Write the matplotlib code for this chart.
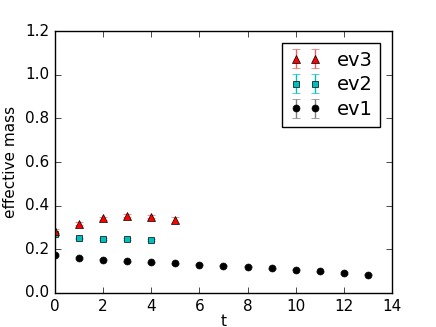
import matplotlib
matplotlib.use("Agg")
from matplotlib import pyplot as plt

t1 = list(range(14))
ev1 = [0.174, 0.160, 0.153, 0.145, 0.141, 0.136, 0.130, 0.125, 0.120, 0.113, 0.107, 0.099, 0.092, 0.084]
err1 = [0.004, 0.003, 0.003, 0.003, 0.003, 0.003, 0.003, 0.003, 0.003, 0.003, 0.003, 0.003, 0.003, 0.003]

t2 = [0, 1, 2, 3, 4]
ev2 = [0.268, 0.250, 0.246, 0.246, 0.242]
err2 = [0.006, 0.004, 0.004, 0.004, 0.004]

t3 = [0, 1, 2, 3, 4, 5]
ev3 = [0.285, 0.318, 0.342, 0.354, 0.350, 0.334]
err3 = [0.010, 0.008, 0.006, 0.006, 0.006, 0.012]

plt.style.use("classic")
plt.rcParams["figure.facecolor"] = "white"

fig = plt.figure(figsize=(4.36, 3.27), dpi=100)
ax = fig.add_axes([0.126, 0.104, 0.773, 0.801])

h1 = ax.errorbar(t1, ev1, yerr=err1, fmt="o", color="black", ecolor="gray",
                 markersize=5, label="ev1")
h2 = ax.errorbar(t2, ev2, yerr=err2, fmt="s", color="c", ecolor="c",
                 markersize=5, label="ev2")
h3 = ax.errorbar(t3, ev3, yerr=err3, fmt="^", color="red", ecolor="#f06060",
                 markersize=6, label="ev3")

ax.set_xlim(0, 14)
ax.set_ylim(0, 1.2)
ax.set_xticks(range(0, 15, 2))
ax.set_yticks([0.0, 0.2, 0.4, 0.6, 0.8, 1.0, 1.2])
ax.tick_params(labelsize=11)
ax.set_xlabel("t", fontsize=11, labelpad=0)
ax.set_ylabel("effective mass", fontsize=11)

ax.legend([h3, h2, h1], ["ev3", "ev2", "ev1"], loc="upper right",
          numpoints=2, fontsize=14, labelspacing=0.3, handlelength=1.6,
          borderaxespad=0.6)

fig.savefig("out.png", dpi=100)
